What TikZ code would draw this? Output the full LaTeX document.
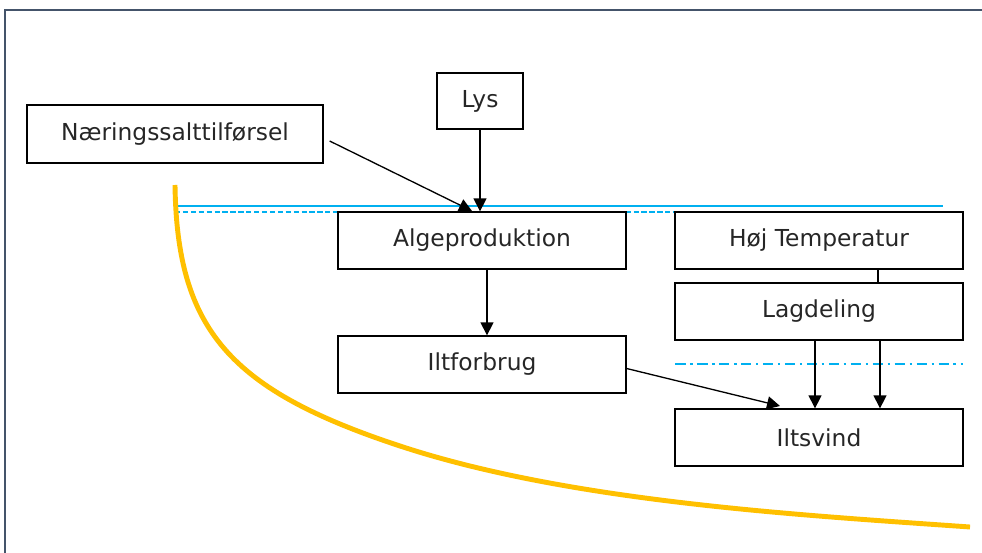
\documentclass[tikz,border=0pt]{standalone}
\usepackage{fontspec}
\setmainfont{DejaVu Sans}
\usepackage{tikz}
\usetikzlibrary{positioning}
\usetikzlibrary{calc}
\usetikzlibrary{arrows.meta}
\definecolor{sea}{HTML}{00B0F0}
\definecolor{oxy}{HTML}{FFC000}
\definecolor{frame}{HTML}{44546A}

\begin{document}
\begin{tikzpicture}[x=0.02cm, y=-0.02cm, line width=0.75pt,
    box/.style={draw, minimum width=5.76cm, minimum height=1.14cm, inner sep=0pt,
        font=\fontsize{13.3}{15}\selectfont, text=black!85},
    arr/.style={-{Triangle[length=0.26cm, width=0.26cm]}, line width=0.75pt}]

    \useasboundingbox (0,0) rectangle (982,553);

    % frame
    \draw[frame, line width=1.2pt] (4,10) -- (982,10);
    \draw[frame, line width=1.2pt] (5,10) -- (5,553);

    % water surface
    \draw[sea, line width=1pt] (175,206) -- (943,206);
    \draw[sea, line width=0.6pt, dash pattern=on 3pt off 1.5pt] (175,212) -- (675,212);
    \draw[sea, line width=0.8pt, dash pattern=on 6pt off 2.5pt on 1.5pt off 2.5pt] (675,364) -- (963,364);

    % oxygen curve
    \draw[oxy, line width=2.8pt] (175,185) .. controls (177,330) and (230,390) .. (400,446)
        .. controls (570,502) and (800,515) .. (970,527);

    \node[box, minimum width=5.92cm, minimum height=1.16cm] (naering) at (175,134) {Næringssalttilførsel};
    \node[box, minimum width=1.72cm, minimum height=1.12cm] (lys) at (480,101) {Lys};
    \node[box] (alge) at (482,240.5) {Algeproduktion};
    \node[box] (temp) at (819,240.5) {Høj Temperatur};
    \node[box] (lag) at (819,311.5) {Lagdeling};
    \node[box] (ilt) at (482,364.5) {Iltforbrug};
    \node[box] (svind) at (819,437.5) {Iltsvind};

    \coordinate (N1) at (472,211);
    \coordinate (S1) at (780,406);

    \draw[arr] ($(naering.east)+(6,7)$) -- (N1);
    \draw[arr] (lys.south) -- (lys.south |- alge.north);
    \draw[arr] ($(alge.south)+(5,0)$) -- ($(ilt.north)+(5,0)$);
    \draw[arr] ($(ilt.east)+(0,4)$) -- (S1);
    \draw[arr] ($(lag.south)+(-4,0)$) -- ($(svind.north)+(-4,0)$);
    \draw[arr] ($(lag.south)+(61,0)$) -- ($(svind.north)+(61,0)$);
    \draw ($(temp.south)+(59,0)$) -- ($(lag.north)+(59,0)$);
\end{tikzpicture}
\end{document}
